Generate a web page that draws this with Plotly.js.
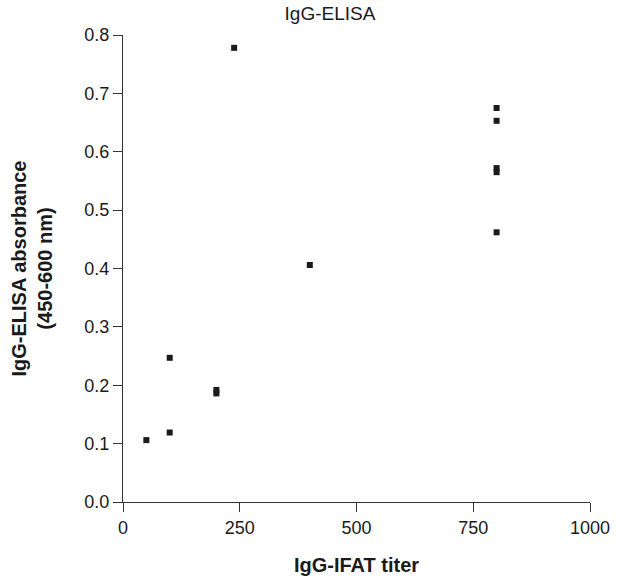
<!DOCTYPE html>
<html>
<head>
<meta charset="utf-8">
<script src="https://cdn.plot.ly/plotly-3.0.1.min.js"></script>
<style>html,body{margin:0;padding:0;background:#fff;}#chart{width:618px;height:579px;}</style>
</head>
<body>
<div id="chart"></div>
<script>
const ifatTiter = [50, 100, 100, 200, 200, 238, 400, 800, 800, 800, 800, 800];
const elisaAbsorbance = [0.106, 0.119, 0.247, 0.192, 0.186, 0.778, 0.406, 0.675, 0.653, 0.572, 0.565, 0.462];
const xTicks = [0, 250, 500, 750, 1000];
const yTicks = [0, 0.1, 0.2, 0.3, 0.4, 0.5, 0.6, 0.7, 0.8];

const font = 'Liberation Sans, Arial, Helvetica, sans-serif';
const axisColor = '#333';
const textColor = '#1a1a1a';

Plotly.newPlot('chart', [{
  x: ifatTiter,
  y: elisaAbsorbance,
  type: 'scatter',
  mode: 'markers',
  marker: {symbol: 'square', size: 6, color: '#1a1a1a'},
  cliponaxis: false,
  hoverinfo: 'x+y'
}], {
  width: 618, height: 579,
  margin: {l: 123, r: 28, t: 35, b: 77},
  paper_bgcolor: '#fff', plot_bgcolor: '#fff',
  showlegend: false,
  font: {family: font, size: 18, color: textColor},
  title: {text: 'IgG-ELISA', x: 330 / 618, xanchor: 'center', xref: 'container',
          y: 1 - 13 / 579, yref: 'container', yanchor: 'middle',
          font: {family: font, size: 19, color: textColor}},
  xaxis: {
    range: [0, 1000], tickvals: xTicks, ticktext: xTicks.map(String),
    showgrid: false, zeroline: false, showline: true, linecolor: axisColor, linewidth: 1,
    ticks: 'outside', ticklen: 9, tickcolor: axisColor, tickwidth: 1,
    tickfont: {family: font, size: 18, color: textColor},
    title: {text: '<b>IgG-IFAT titer</b>', standoff: 21, font: {family: font, size: 20, color: textColor}}
  },
  yaxis: {
    range: [0, 0.8], tickvals: yTicks, ticktext: yTicks.map(v => v.toFixed(1)),
    showgrid: false, zeroline: false, showline: true, linecolor: axisColor, linewidth: 1,
    ticks: 'outside', ticklen: 9, tickcolor: axisColor, tickwidth: 1,
    tickfont: {family: font, size: 18, color: textColor},
    title: {text: '<b>IgG-ELISA absorbance<br>(450-600 nm)</b>', standoff: 26, font: {family: font, size: 20, color: textColor}}
  }
}, {displayModeBar: false, staticPlot: true});
</script>
</body>
</html>
